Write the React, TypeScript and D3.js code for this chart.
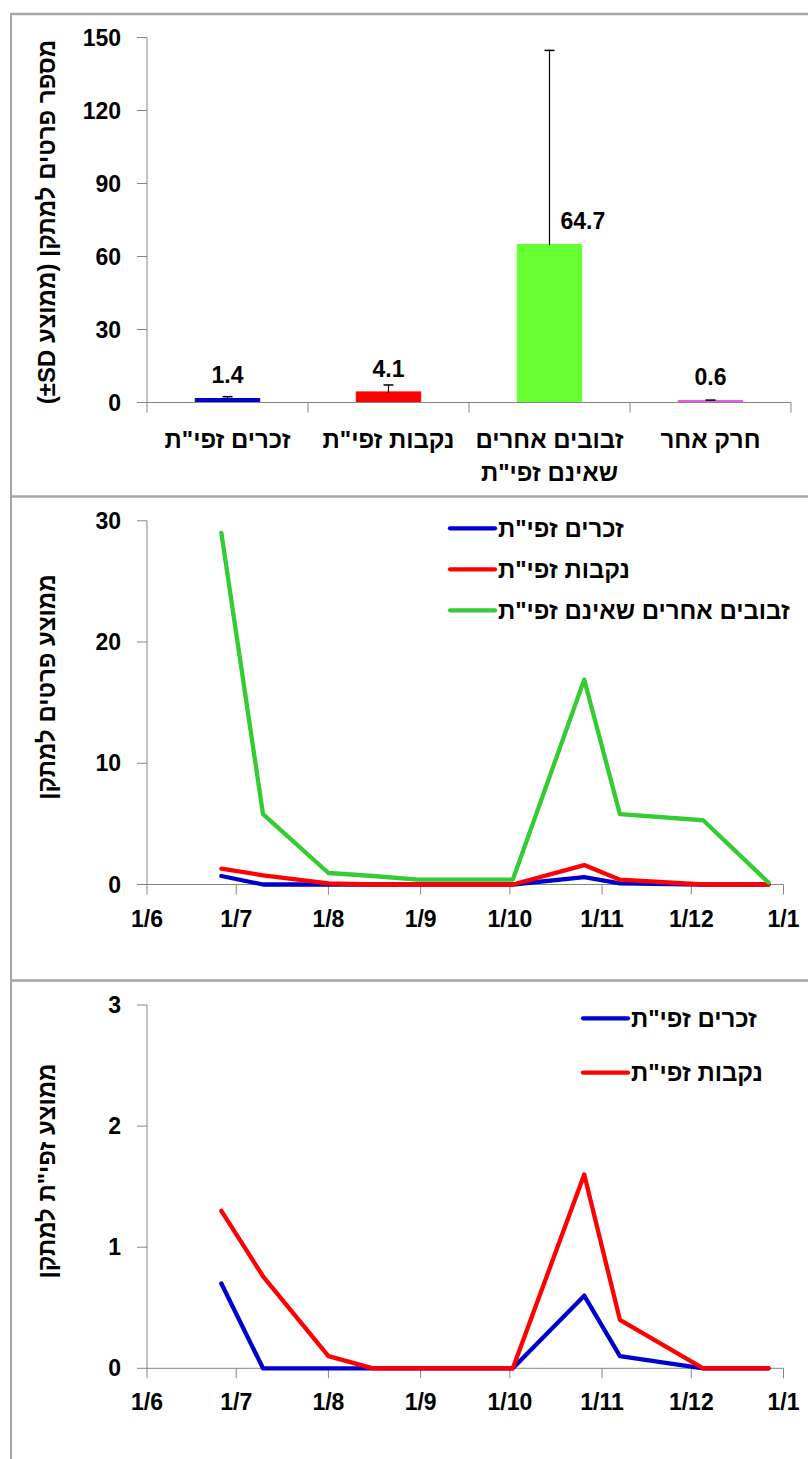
import React from "react";
import * as d3 from "d3";

// ---------- Data ----------
// Bar chart: mean catch per trap (±SD)
const barCategories: string[][] = [
  ['זכרים זפי"ת'],
  ['נקבות זפי"ת'],
  ["זבובים אחרים", 'שאינם זפי"ת'],
  ["חרק אחר"],
];
const barMeans = [1.4, 4.1, 64.7, 0.6];
const barSDs = [1.0, 3.1, 80.0, 0.4];
const barColors = ["#0000cc", "#ff0000", "#66ff33", "#ee55ee"];
const barTicks = [0, 30, 60, 90, 120, 150];

// Time series: sampling dates
const sampleDates = [
  "2013-06-26",
  "2013-07-10",
  "2013-08-01",
  "2013-08-16",
  "2013-08-31",
  "2013-10-02",
  "2013-10-26",
  "2013-11-07",
  "2013-12-05",
  "2013-12-27",
];
const malesMean = [0.7, 0, 0, 0, 0, 0, 0.6, 0.1, 0, 0];
const femalesMean = [1.3, 0.76, 0.1, 0, 0, 0, 1.6, 0.4, 0, 0];
const otherFliesMean = [29.0, 5.8, 0.95, 0.7, 0.4, 0.4, 16.9, 5.8, 5.3, 0.15];

const seriesNames = ['זכרים זפי"ת', 'נקבות זפי"ת', 'זבובים אחרים שאינם זפי"ת'];
const seriesColors = ["#0000cc", "#ff0000", "#33cc33"];

const midTicks = [0, 10, 20, 30];
const lowTicks = [0, 1, 2, 3];

const yTitleTop = "מספר פרטים למתקן (ממוצע \u2066±SD\u2069)";
const yTitleMid = "ממוצע פרטים למתקן";
const yTitleLow = 'ממוצע זפי"ת למתקן';

// ---------- Layout ----------
const W = 808;
const H = 1459;
const FONT = "'Liberation Sans', Arial, sans-serif";
const AXIS = "#868686";
const FRAME = "#a6a6a6";
const NUM_SIZE = 23;
const HEB_SIZE = 24;

const parse = d3.timeParse("%Y-%m-%d");
const dates = sampleDates.map((s) => parse(s) as Date);
const fmtDate = d3.timeFormat("%-d/%-m");

const xTime = d3
  .scaleTime()
  .domain([new Date(2013, 5, 1), new Date(2014, 0, 1)])
  .range([147, 783.5]);
const monthTicks = xTime.ticks(d3.timeMonth.every(1) as d3.TimeInterval);

function YAxis({ scale, ticks, x }: { scale: d3.ScaleLinear<number, number>; ticks: number[]; x: number }) {
  const [r0, r1] = scale.range();
  return (
    <g>
      <line x1={x} x2={x} y1={r0} y2={r1} stroke={AXIS} strokeWidth={1} />
      {ticks.map((t) => (
        <g key={t}>
          <line x1={x - 10} x2={x} y1={scale(t)} y2={scale(t)} stroke={AXIS} strokeWidth={1} />
          <text
            x={x - 26}
            y={scale(t)}
            textAnchor="end"
            dominantBaseline="central"
            fontFamily={FONT}
            fontWeight="bold"
            fontSize={NUM_SIZE}
          >
            {t}
          </text>
        </g>
      ))}
    </g>
  );
}

function TimeXAxis({ y }: { y: number }) {
  const [x0, x1] = xTime.range();
  return (
    <g>
      <line x1={x0} x2={x1} y1={y} y2={y} stroke={AXIS} strokeWidth={1} />
      {monthTicks.map((d, i) => (
        <g key={i}>
          <line x1={xTime(d)} x2={xTime(d)} y1={y} y2={y + 10} stroke={AXIS} strokeWidth={1} />
          <text
            x={xTime(d)}
            y={y + 42}
            textAnchor="middle"
            fontFamily={FONT}
            fontWeight="bold"
            fontSize={NUM_SIZE}
          >
            {fmtDate(d)}
          </text>
        </g>
      ))}
    </g>
  );
}

function YTitle({ text, cy }: { text: string; cy: number }) {
  return (
    <text
      transform={`translate(46,${cy}) rotate(-90)`}
      textAnchor="middle"
      dominantBaseline="central"
      direction="rtl"
      fontFamily={FONT}
      fontWeight="bold"
      fontSize={HEB_SIZE}
    >
      {text}
    </text>
  );
}

function Legend({
  items,
  x,
  y0,
  step,
}: {
  items: { name: string; color: string }[];
  x: number;
  y0: number;
  step: number;
}) {
  return (
    <g>
      {items.map((it, i) => (
        <g key={i}>
          <line
            x1={x}
            x2={x + 45}
            y1={y0 + i * step}
            y2={y0 + i * step}
            stroke={it.color}
            strokeWidth={4.3}
            strokeLinecap="round"
          />
          <text
            x={x + 48}
            y={y0 + i * step}
            dominantBaseline="central"
            fontFamily={FONT}
            fontWeight="bold"
            fontSize={HEB_SIZE}
          >
            {it.name}
          </text>
        </g>
      ))}
    </g>
  );
}

function BarPanel() {
  const y = d3.scaleLinear().domain([0, 150]).range([402.5, 37.5]);
  const x = d3
    .scaleBand<number>()
    .domain(barMeans.map((_, i) => i))
    .range([147, 791])
    .padding(0);
  const bw = x.bandwidth() * 0.4;
  const [xa, xb] = x.range();
  const bounds = [...barMeans.map((_, i) => x(i) as number), xb];
  return (
    <g>
      <YAxis scale={y} ticks={barTicks} x={147} />
      {barMeans.map((m, i) => {
        const cx = (x(i) as number) + x.bandwidth() / 2;
        const top = y(m + barSDs[i]);
        const labelY = y(m) - 16;
        const clash = top < labelY - 16;
        return (
          <g key={i}>
            <rect
              x={cx - bw / 2}
              y={y(m) - 0.6}
              width={bw}
              height={y(0) - y(m) + 0.6}
              fill={barColors[i]}
              stroke={barColors[i]}
              strokeWidth={1}
            />
            <line x1={cx} x2={cx} y1={y(m)} y2={top} stroke="#000" strokeWidth={1.2} />
            <line x1={cx - 5} x2={cx + 5} y1={top} y2={top} stroke="#000" strokeWidth={1.5} />
            <text
              x={clash ? cx + 11 : cx}
              y={labelY}
              textAnchor={clash ? "start" : "middle"}
              fontFamily={FONT}
              fontWeight="bold"
              fontSize={NUM_SIZE}
            >
              {m.toFixed(1)}
            </text>
            {barCategories[i].map((line, j) => (
              <text
                key={j}
                x={cx}
                y={y(0) + 45 + j * 33}
                textAnchor="middle"
                direction="rtl"
                fontFamily={FONT}
                fontWeight="bold"
                fontSize={HEB_SIZE}
              >
                {line}
              </text>
            ))}
          </g>
        );
      })}
      <line x1={xa} x2={xb} y1={y(0)} y2={y(0)} stroke={AXIS} strokeWidth={1} />
      {bounds.map((bx, i) => (
        <line key={i} x1={bx} x2={bx} y1={y(0)} y2={y(0) + 10} stroke={AXIS} strokeWidth={1} />
      ))}
      <YTitle text={yTitleTop} cy={222} />
    </g>
  );
}

function LinePanel({
  series,
  colors,
  names,
  y,
  ticks,
  axisY,
  title,
  titleY,
  legendX,
  legendY,
  legendStep,
}: {
  series: number[][];
  colors: string[];
  names: string[];
  y: d3.ScaleLinear<number, number>;
  ticks: number[];
  axisY: number;
  title: string;
  titleY: number;
  legendX: number;
  legendY: number;
  legendStep: number;
}) {
  const line = d3
    .line<number>()
    .x((_, i) => xTime(dates[i]))
    .y((v) => y(v));
  return (
    <g>
      <YAxis scale={y} ticks={ticks} x={147} />
      <TimeXAxis y={axisY} />
      {series.map((s, i) => (
        <path
          key={i}
          d={line(s) ?? ""}
          fill="none"
          stroke={colors[i]}
          strokeWidth={4.3}
          strokeLinejoin="round"
          strokeLinecap="round"
        />
      ))}
      <Legend
        items={names.map((n, i) => ({ name: n, color: colors[i] }))}
        x={legendX}
        y0={legendY}
        step={legendStep}
      />
      <YTitle text={title} cy={titleY} />
    </g>
  );
}

export default function App() {
  const yMid = d3.scaleLinear().domain([0, 30]).range([884.5, 520.8]);
  const yLow = d3.scaleLinear().domain([0, 3]).range([1368.3, 1005]);
  return (
    <svg
      width={W}
      height={H}
      viewBox={`0 0 ${W} ${H}`}
      style={{ position: "absolute", left: 0, top: 0, background: "#fff" }}
    >
      <rect x={0} y={0} width={W} height={H} fill="#fff" />
      {/* panel frames */}
      <line x1={11} x2={W} y1={14} y2={14} stroke={FRAME} strokeWidth={2.5} />
      <line x1={11} x2={W} y1={496.5} y2={496.5} stroke={FRAME} strokeWidth={2.5} />
      <line x1={11} x2={W} y1={980.5} y2={980.5} stroke={FRAME} strokeWidth={2.5} />
      <line x1={11} x2={11} y1={13} y2={H} stroke={FRAME} strokeWidth={2} />

      <BarPanel />

      <LinePanel
        series={[malesMean, femalesMean, otherFliesMean]}
        colors={seriesColors}
        names={seriesNames}
        y={yMid}
        ticks={midTicks}
        axisY={884.5}
        title={yTitleMid}
        titleY={687}
        legendX={450}
        legendY={528.3}
        legendStep={41}
      />

      <LinePanel
        series={[malesMean, femalesMean]}
        colors={seriesColors.slice(0, 2)}
        names={seriesNames.slice(0, 2)}
        y={yLow}
        ticks={lowTicks}
        axisY={1368.3}
        title={yTitleLow}
        titleY={1171}
        legendX={583}
        legendY={1018.3}
        legendStep={54.4}
      />
    </svg>
  );
}
